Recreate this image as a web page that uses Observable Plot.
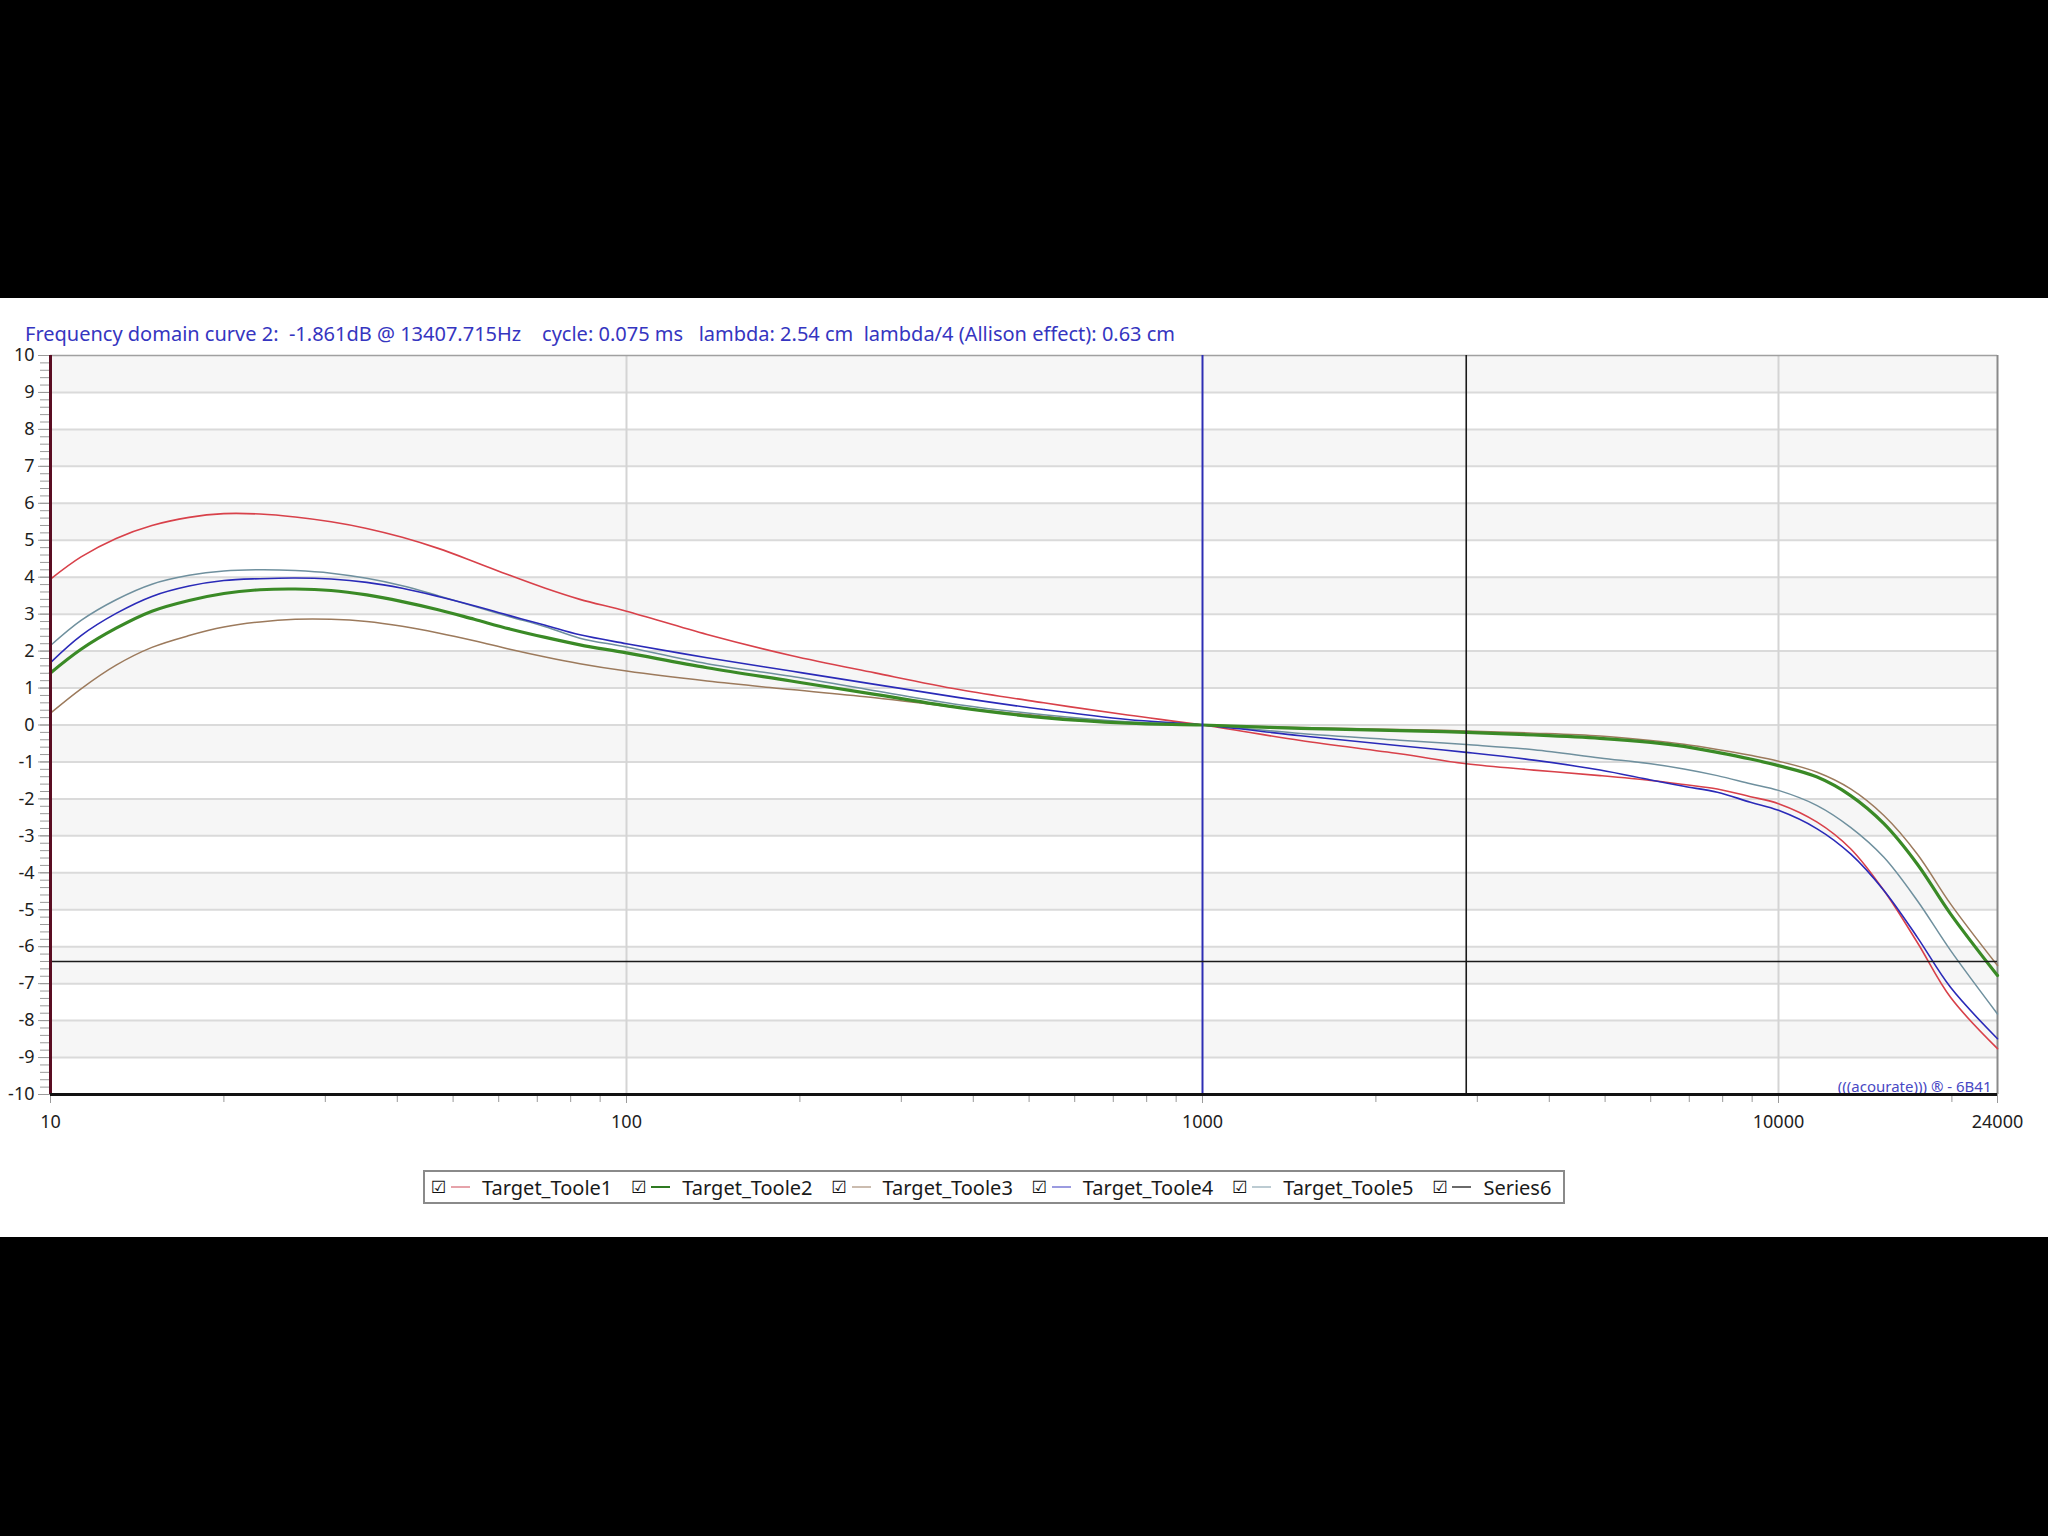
<!DOCTYPE html>
<html>
<head>
<meta charset="utf-8">
<script src="https://cdn.jsdelivr.net/npm/d3@7"></script>
<script src="https://cdn.jsdelivr.net/npm/@observablehq/plot@0.6"></script>
<style>
  html, body { margin: 0; padding: 0; }
  body { width: 2048px; height: 1536px; background: #000; position: relative; overflow: hidden; font-family: "Noto Sans", "Liberation Sans", sans-serif; }
  #panel { position: absolute; left: 0; top: 298px; width: 2048px; height: 939px; background: #fff; }
  #title { position: absolute; left: 25px; top: 324px; font-size: 20px; line-height: 20px; color: #3535c0; white-space: pre; font-family: "Noto Sans", sans-serif; }
  #chart { position: absolute; left: 0; top: 340px; }
  #legend { position: absolute; left: 423px; top: 1170px; width: 1138px; height: 30px; border: 2px solid #8a8a8a; display: flex; align-items: center; font-size: 20px; color: #1a1a1a; }
  .item { display: flex; align-items: center; margin-right: 19px; }
  .item:first-child { margin-left: 6px; }
  .cb { font-family: "DejaVu Sans", sans-serif; font-size: 17px; width: 14px; margin-right: 6px; color: #111; }
  .sw { width: 19px; height: 2px; margin-right: 12px; }
</style>
</head>
<body>
<div id="panel"></div>
<div id="title"></div>
<div id="chart"></div>
<div id="legend"></div>
<script>
// ---- data ----
const titleText = "Frequency domain curve 2:  -1.861dB @ 13407.715Hz    cycle: 0.075 ms   lambda: 2.54 cm  lambda/4 (Allison effect): 0.63 cm";
const watermark = "(((acourate))) \u00AE - 6B41";

const freqs = [10, 11.3, 13, 15, 17.4, 20, 23.1, 26.6, 30.7, 35.4, 40.8, 47.1, 54.4, 62.7, 72.3, 83, 100, 138, 193, 270, 378, 530, 741, 1000, 1480, 2200, 2870, 3760, 4900, 6000, 6850, 7830, 8940, 10000, 11670, 13340, 15240, 17410, 19890, 24000];

const toole1 = [3.95, 4.55, 5.05, 5.40, 5.62, 5.72, 5.71, 5.63, 5.50, 5.32, 5.08, 4.78, 4.42, 4.05, 3.70, 3.40, 3.08, 2.45, 1.88, 1.41, 0.96, 0.60, 0.27, 0.00, -0.42, -0.78, -1.05, -1.22, -1.37, -1.50, -1.61, -1.73, -1.94, -2.13, -2.63, -3.35, -4.48, -5.88, -7.37, -8.76];
const toole2 = [1.41, 2.05, 2.62, 3.08, 3.37, 3.56, 3.66, 3.68, 3.64, 3.52, 3.34, 3.12, 2.86, 2.60, 2.37, 2.17, 1.95, 1.55, 1.19, 0.83, 0.47, 0.20, 0.05, 0.00, -0.09, -0.15, -0.20, -0.27, -0.36, -0.47, -0.58, -0.74, -0.92, -1.10, -1.41, -1.91, -2.67, -3.76, -5.11, -6.78];
const toole3 = [0.32, 0.98, 1.62, 2.10, 2.42, 2.65, 2.79, 2.86, 2.86, 2.80, 2.67, 2.49, 2.28, 2.05, 1.84, 1.66, 1.46, 1.19, 0.96, 0.74, 0.47, 0.24, 0.06, 0.00, -0.07, -0.12, -0.16, -0.22, -0.30, -0.42, -0.52, -0.66, -0.82, -0.98, -1.28, -1.73, -2.45, -3.49, -4.84, -6.51];
const toole4 = [1.69, 2.42, 3.02, 3.48, 3.76, 3.91, 3.96, 3.98, 3.95, 3.86, 3.70, 3.48, 3.23, 2.96, 2.70, 2.44, 2.20, 1.82, 1.46, 1.10, 0.74, 0.42, 0.15, 0.00, -0.29, -0.56, -0.74, -0.95, -1.22, -1.49, -1.66, -1.82, -2.09, -2.31, -2.81, -3.49, -4.48, -5.74, -7.10, -8.49];
const toole5 = [2.15, 2.83, 3.39, 3.81, 4.05, 4.17, 4.20, 4.18, 4.11, 3.97, 3.77, 3.50, 3.21, 2.93, 2.66, 2.35, 2.11, 1.66, 1.32, 0.93, 0.55, 0.28, 0.09, 0.00, -0.23, -0.41, -0.53, -0.67, -0.89, -1.05, -1.19, -1.37, -1.59, -1.77, -2.18, -2.77, -3.58, -4.75, -6.10, -7.82];

const seriesNames = ["Target_Toole1", "Target_Toole2", "Target_Toole3", "Target_Toole4", "Target_Toole5", "Series6"];
const lineColors = ["#d8414a", "#3a8a26", "#9c7a5c", "#2a2ab8", "#6f909e", "#555555"];
const legendColors = ["#e6a3aa", "#2f7a22", "#cbbcaf", "#9b9be0", "#bccbd2", "#6a6a6a"];

const cursorFreqs = [1000, 2870];
const cursorDb = [-6.4];

const yMajor = [-10, -9, -8, -7, -6, -5, -4, -3, -2, -1, 0, 1, 2, 3, 4, 5, 6, 7, 8, 9, 10];
const yMinor = d3.range(-100, 101, 2).map(v => v / 10);
const yGrid = [-9, -8, -7, -6, -5, -4, -3, -2, -1, 0, 1, 2, 3, 4, 5, 6, 7, 8, 9];
const bandLows = [9, 7, 5, 3, 1, -1, -3, -5, -7, -9];
const xMajor = [10, 100, 1000, 10000, 24000];
const xMinor = [20, 30, 40, 50, 60, 70, 80, 90, 200, 300, 400, 500, 600, 700, 800, 900, 2000, 3000, 4000, 5000, 6000, 7000, 8000, 9000, 20000];
const xGrid = [100, 10000];

// ---- build ----
document.getElementById("title").textContent = titleText;

const seriesValues = [toole1, toole2, toole3, toole4, toole5];
const seriesWidths = [1.6, 3.2, 1.5, 1.6, 1.5];
const rows = seriesValues.map(vals => freqs.map((f, i) => ({f, db: vals[i]})));
const bands = bandLows.map(lo => ({lo, hi: lo + 1}));

const drawOrder = [2, 0, 4, 3, 1];

const chart = Plot.plot({
  width: 2048,
  height: 800,
  marginTop: 15,
  marginBottom: 46,
  marginLeft: 50,
  marginRight: 51,
  x: {type: "log", domain: [10, 24000], label: null},
  y: {domain: [-10, 10], label: null},
  style: {background: "transparent", fontFamily: "'Noto Sans', 'Liberation Sans', sans-serif", color: "#1e1e1e"},
  marks: [
    Plot.rect(bands, {x1: () => 10, x2: () => 24000, y1: "lo", y2: "hi", fill: "#f6f6f6"}),
    Plot.ruleY(yGrid, {stroke: "#dadada", strokeWidth: 2}),
    Plot.ruleX(xGrid, {stroke: "#d4d4d4", strokeWidth: 2}),
    Plot.ruleY([10], {stroke: "#a0a0a0", strokeWidth: 1.5}),
    Plot.ruleX([24000], {stroke: "#8a8a8a", strokeWidth: 2}),
    ...drawOrder.map(k => Plot.line(rows[k], {x: "f", y: "db", stroke: lineColors[k], strokeWidth: seriesWidths[k], curve: "catmull-rom"})),
    Plot.ruleX(cursorFreqs.slice(0, 1), {stroke: "#2e2eb4", strokeWidth: 2}),
    Plot.ruleX(cursorFreqs.slice(1), {stroke: "#1a1a1a", strokeWidth: 1.6}),
    Plot.ruleY(cursorDb, {stroke: "#1a1a1a", strokeWidth: 1.6}),
    Plot.text([watermark], {text: d => d, frameAnchor: "bottom-right", dx: -6, dy: -3, fill: "#4848c4", fontSize: 15, textAnchor: "end"}),
    Plot.axisY(yMinor, {tickSize: 10, tickFormat: () => "", stroke: "#9a9a9a", label: null}),
    Plot.axisY(yMajor, {tickSize: 12, tickPadding: 4, tickFormat: d => String(d), stroke: "#9a9a9a", fontSize: 18, label: null}),
    Plot.axisX(xMinor, {tickSize: 8, tickFormat: () => "", stroke: "#9a9a9a", label: null}),
    Plot.axisX(xMajor, {tickSize: 9, tickPadding: 12, tickFormat: d => String(d), stroke: "#9a9a9a", fontSize: 18, label: null}),
    Plot.ruleX([10], {stroke: "#5a0d22", strokeWidth: 3}),
    Plot.ruleY([-10], {stroke: "#111", strokeWidth: 3})
  ]
});
document.getElementById("chart").appendChild(chart);

// legend
const legend = document.getElementById("legend");
seriesNames.forEach((name, i) => {
  const item = document.createElement("div");
  item.className = "item";
  const cb = document.createElement("span");
  cb.className = "cb";
  cb.textContent = "\u2611";
  const sw = document.createElement("span");
  sw.className = "sw";
  sw.style.background = legendColors[i];
  const tx = document.createElement("span");
  tx.textContent = name;
  item.append(cb, sw, tx);
  legend.appendChild(item);
});
</script>
</body>
</html>
